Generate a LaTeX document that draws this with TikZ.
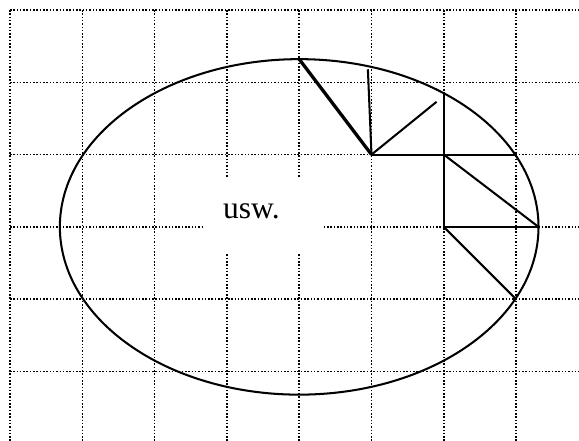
\documentclass[tikz,border=0pt]{standalone}
\usepackage{fontspec}
\setmainfont{Liberation Serif}
\usetikzlibrary{positioning}
\tikzset{
  gridline/.style={line width=0.6pt, dash pattern=on 0.6pt off 0.7pt},
  curve/.style={line width=0.8pt},
  seg/.style={line width=0.8pt},
  boldseg/.style={line width=1.3pt},
  labelbox/.style={rectangle, fill=white, inner sep=0pt,
                   minimum width=1.67cm, minimum height=1.04cm},
}

\begin{document}
\begin{tikzpicture}
    \useasboundingbox (-0.138,0.138) rectangle (7.87,-5.96);
    % dotted grid, 1cm
    \foreach \x in {0,...,7} \draw[gridline] (\x,0) -- (\x,-5.96);
    \foreach \y in {0,...,5} \draw[gridline] (0,-\y) -- (7.87,-\y);
    % white box over the grid, with the label
    \node[labelbox] (box) at (3.505,-2.84) {};
    \node[font=\fontsize{12.4}{14}\selectfont, inner sep=0pt] (usw) at (3.34,-2.79) {usw.};
    % ellipse
    \coordinate (m) at (4,-3);
    \draw[curve] (m) ellipse [x radius=3.31cm, y radius=2.32cm];
    % points
    \coordinate (top) at (4,-0.68);
    \coordinate (p) at (5,-2);
    \coordinate (q) at (6,-2);
    \coordinate (r) at (6,-3);
    \coordinate (s1) at (4.95,-0.82);
    \coordinate (s2) at (5.9,-1.27);
    \coordinate (s3) at (6,-1.14);
    \coordinate (e1) at (6.99,-2);
    \coordinate (e2) at (7.31,-3);
    \coordinate (e3) at (7,-4);
    % construction
    \draw[boldseg] (top) -- (p);
    \draw[seg] (p) -- (s1);
    \draw[seg] (p) -- (s2);
    \draw[seg] (s3) -- (r);
    \draw[seg] (p) -- (e1);
    \draw[seg] (q) -- (e2);
    \draw[seg] (r) -- (e2);
    \draw[seg] (r) -- (e3);
\end{tikzpicture}
\end{document}
